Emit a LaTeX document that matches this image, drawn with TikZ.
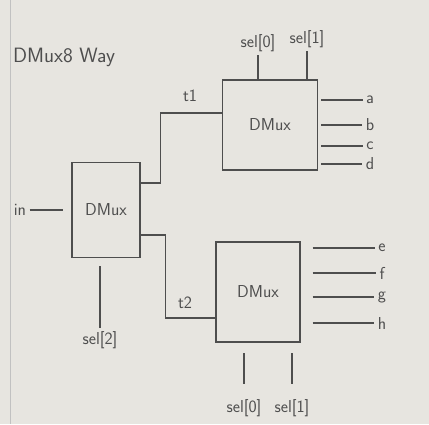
\documentclass[tikz,border=0pt]{standalone}
\usepackage{tikz}
\usetikzlibrary{positioning}
\definecolor{paper}{HTML}{E7E5E0}
\definecolor{pencil}{HTML}{4E4E4E}
\tikzstyle{textonly} = [draw=none, fill=none, text=pencil, text centered, font=\sffamily\LARGE]
\tikzstyle{block} = [draw=pencil, line width=1.4pt, fill=none, text=pencil, text centered, font=\sffamily\LARGE]
\tikzstyle{wire}  = [draw=pencil, line width=1.4pt]

\begin{document}
\begin{tikzpicture}[x=1pt, y=-1pt]

\fill[paper] (0,0) rectangle (429,424);
\useasboundingbox (0,0) rectangle (429,424);
\draw[pencil!35, line width=0.8pt] (10,0) -- (10,424);

\node[textonly, font=\sffamily\huge] (title) at (64,57) {DMux8 Way};

\node[block, minimum width=68pt, minimum height=95pt] (dmuxin) at (106,210) {DMux};
\node[block, minimum width=95pt, minimum height=90pt] (dmuxtop) at (270,125) {DMux};
\node[block, minimum width=84pt, minimum height=100pt] (dmuxbottom) at (258,292) {DMux};

\node[textonly] (in) at (20,210) {in};
\node[textonly] (selc) at (100,340) {sel[2]};
\node[textonly] (tone) at (190,96) {t1};
\node[textonly] (ttwo) at (185,303) {t2};

\node[textonly] (seltopa) at (258,43) {sel[0]};
\node[textonly] (seltopb) at (307,39) {sel[1]};
\node[textonly] (selbota) at (244,408) {sel[0]};
\node[textonly] (selbotb) at (292,408) {sel[1]};

\node[textonly] (a) at (370,100) {a};
\node[textonly] (b) at (370,125) {b};
\node[textonly] (c) at (370,146) {c};
\node[textonly] (d) at (370,164) {d};
\node[textonly] (e) at (382,248) {e};
\node[textonly] (f) at (382,273) {f};
\node[textonly] (g) at (382,297) {g};
\node[textonly] (h) at (382,323) {h};

\path[wire, shorten >=8pt] (in) edge (dmuxin);
\path[wire, shorten >=8pt] (selc.north) edge (selc.north |- dmuxin.south);

\draw[wire] ([yshift=27pt]dmuxin.east) -- ++(20,0) |- ([yshift=12pt]dmuxtop.west);
\draw[wire] ([yshift=-25pt]dmuxin.east) -- ++(25,0) |- ([yshift=-26pt]dmuxbottom.west);

\path[wire] (seltopa.south) edge (seltopa.south |- dmuxtop.north);
\path[wire] (seltopb.south) edge (seltopb.south |- dmuxtop.north);
\path[wire, shorten >=10pt, shorten <=12pt] (selbota.north) edge (selbota.north |- dmuxbottom.south);
\path[wire, shorten >=10pt, shorten <=12pt] (selbotb.north) edge (selbotb.north |- dmuxbottom.south);

\path[wire, shorten <=3pt] (dmuxtop.east |- a) edge (a.west);
\path[wire, shorten <=3pt] (dmuxtop.east |- b) edge (b.west);
\path[wire, shorten <=3pt] (dmuxtop.east |- c) edge (c.west);
\path[wire, shorten <=3pt] (dmuxtop.east |- d) edge (d.west);

\path[wire, shorten <=12pt] (dmuxbottom.east |- e) edge (e.west);
\path[wire, shorten <=12pt] (dmuxbottom.east |- f) edge (f.west);
\path[wire, shorten <=12pt] (dmuxbottom.east |- g) edge (g.west);
\path[wire, shorten <=12pt] (dmuxbottom.east |- h) edge (h.west);

\end{tikzpicture}
\end{document}
